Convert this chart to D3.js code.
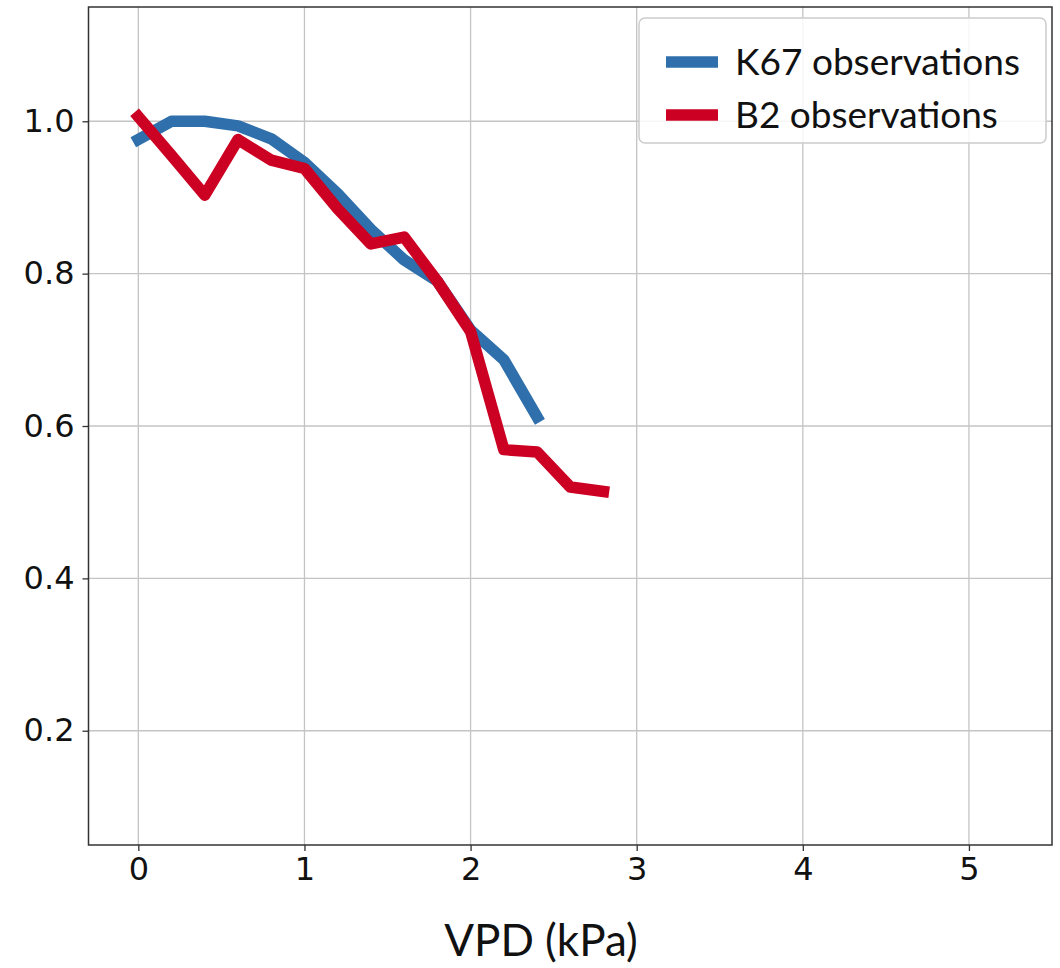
<!DOCTYPE html>
<html>
<head>
<meta charset="utf-8">
<script src="https://cdn.jsdelivr.net/npm/d3@7"></script>
<style>
  body { margin: 0; background: #fff; }
  svg { display: block; }
</style>
</head>
<body>
<svg id="chart" width="1060" height="968"></svg>
<script>
// VPD values (kPa) and normalised observations
var vpdK67 = [0, 0.2, 0.4, 0.6, 0.8, 1.0, 1.2, 1.4, 1.6, 1.8, 2.0, 2.2, 2.4];
var k67Obs = [0.976, 1.0, 1.0, 0.994, 0.977, 0.946, 0.905, 0.858, 0.818, 0.790, 0.726, 0.687, 0.612];

var vpdB2 = [0, 0.2, 0.4, 0.6, 0.8, 1.0, 1.2, 1.4, 1.6, 1.8, 2.0, 2.2, 2.4, 2.6, 2.8];
var b2Obs = [1.006, 0.955, 0.903, 0.976, 0.949, 0.938, 0.885, 0.839, 0.848, 0.790, 0.724, 0.569, 0.566, 0.520, 0.514];

var xTicks = [0, 1, 2, 3, 4, 5];
var yTicks = [0.2, 0.4, 0.6, 0.8, 1.0];

var seriesNames = ["K67 observations", "B2 observations"];
var seriesColors = ["#2f6fab", "#cc0022"];

var svg = d3.select("#chart");
var plotLeft = 88.5, plotRight = 1052, plotTop = 7, plotBottom = 845;

var x = d3.scaleLinear().domain([-0.3, 5.5]).range([plotLeft, plotRight]);
var y = d3.scaleLinear().domain([0.05, 1.15]).range([plotBottom, plotTop]);

// grid
var grid = svg.append("g");
grid.selectAll(".gx").data(xTicks).enter().append("line")
    .attr("x1", function(d) { return x(d); })
    .attr("x2", function(d) { return x(d); })
    .attr("y1", plotTop).attr("y2", plotBottom)
    .attr("stroke", "#c4c4c4").attr("stroke-width", 1.3);
grid.selectAll(".gy").data(yTicks).enter().append("line")
    .attr("y1", function(d) { return y(d); })
    .attr("y2", function(d) { return y(d); })
    .attr("x1", plotLeft).attr("x2", plotRight)
    .attr("stroke", "#c4c4c4").attr("stroke-width", 1.3);

// axes
var xAxis = d3.axisBottom(x).tickValues(xTicks).tickSize(6).tickPadding(6)
    .tickFormat(d3.format("d"));
var yAxis = d3.axisLeft(y).tickValues(yTicks).tickSize(6).tickPadding(8)
    .tickFormat(d3.format(".1f"));

var gx = svg.append("g").attr("transform", "translate(0," + plotBottom + ")").call(xAxis);
var gy = svg.append("g").attr("transform", "translate(" + plotLeft + ",0)").call(yAxis);

[gx, gy].forEach(function(g) {
    g.select(".domain").remove();
    g.selectAll(".tick line").attr("stroke", "#333").attr("stroke-width", 1.3);
    g.selectAll(".tick text")
        .attr("fill", "#111")
        .style("font-family", "DejaVu Sans")
        .style("font-size", "32px");
});

// series lines
var line = d3.line()
    .x(function(d) { return x(d[0]); })
    .y(function(d) { return y(d[1]); });

var lines = svg.append("g");
lines.append("path")
    .attr("d", line(d3.zip(vpdK67, k67Obs)))
    .attr("fill", "none")
    .attr("stroke", seriesColors[0])
    .attr("stroke-width", 11.5)
    .attr("stroke-linejoin", "round")
    .attr("stroke-linecap", "square");
lines.append("path")
    .attr("d", line(d3.zip(vpdB2, b2Obs)))
    .attr("fill", "none")
    .attr("stroke", seriesColors[1])
    .attr("stroke-width", 11.5)
    .attr("stroke-linejoin", "round")
    .attr("stroke-linecap", "square");

// frame
svg.append("rect")
    .attr("x", plotLeft).attr("y", plotTop)
    .attr("width", plotRight - plotLeft).attr("height", plotBottom - plotTop)
    .attr("fill", "none").attr("stroke", "#333").attr("stroke-width", 1.5);

// legend
var legend = svg.append("g");
legend.append("rect")
    .attr("x", 639).attr("y", 18).attr("width", 407).attr("height", 125)
    .attr("rx", 6)
    .attr("fill", "#fff").attr("fill-opacity", 0.85)
    .attr("stroke", "#cccccc").attr("stroke-width", 1.5);

var items = legend.selectAll(".item").data(seriesNames).enter().append("g")
    .attr("transform", function(d, i) { return "translate(0," + (62 + i * 53) + ")"; });
items.append("line")
    .attr("x1", 666).attr("x2", 718)
    .attr("stroke", function(d, i) { return seriesColors[i]; })
    .attr("stroke-width", 11.5);
items.append("text")
    .attr("x", 735).attr("y", 0).attr("dy", "0.36em")
    .style("font-family", "Lato")
    .style("font-size", "37px")
    .attr("fill", "#111")
    .text(function(d) { return d; });

// x label
svg.append("text")
    .attr("x", 541).attr("y", 956)
    .attr("text-anchor", "middle")
    .style("font-family", "Lato")
    .style("font-size", "44px")
    .attr("fill", "#111")
    .text("VPD (kPa)");
</script>
</body>
</html>
